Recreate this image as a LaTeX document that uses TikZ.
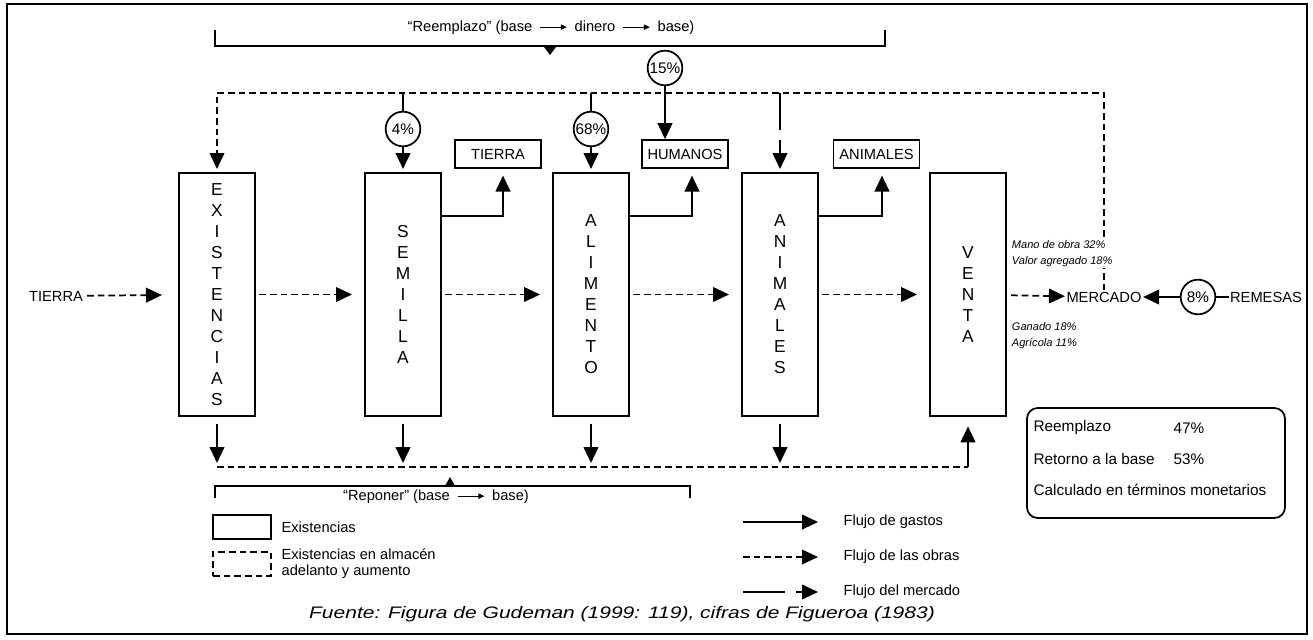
\documentclass[tikz,border=0pt]{standalone}
\usepackage{fontspec}
\setmainfont{Liberation Sans}
\usetikzlibrary{arrows.meta,calc}
\newcommand\txtarrow{\enspace\tikz[baseline=-0.6ex]\draw[line width=0.7pt,-{Triangle[length=4.5pt,width=4pt]}] (0pt,0pt)--(20pt,0pt);\enspace}
\begin{document}
\begin{tikzpicture}[x=0.75pt,y=-0.75pt,
  tri/.style={-{Triangle[length=12pt,width=11pt]}},
  ln/.style={line width=1.5pt},
  dsh/.style={line width=1.3pt, dash pattern=on 5pt off 3pt},
  tallbox/.style={draw, line width=1.5pt, minimum width=57pt, minimum height=182.25pt, inner sep=0pt, align=center, font=\fontsize{13}{15.75}\selectfont},
  smallbox/.style={draw, line width=1.3pt, minimum width=64.5pt, minimum height=21pt, inner sep=0pt, font=\fontsize{11}{12}\selectfont},
  pct/.style={draw, circle, line width=1.3pt, minimum size=26pt, inner sep=0pt, font=\fontsize{11.5}{12}\selectfont},
  lbl/.style={font=\fontsize{11}{12}\selectfont, inner sep=1pt},
  ital/.style={font=\fontsize{8.3}{12}\selectfont\itshape, align=left, inner sep=0.5pt},
]
\useasboundingbox (0,0) rectangle (1313,639);
\draw[line width=1.6pt] (7,4) rectangle (1307,634);

% top bracket
\draw[ln] (215,30) -- (215,46) -- (885,46) -- (885,30);
\fill (544,47) -- (556,47) -- (550,55) -- cycle;
\node[lbl] (reem) at (551,28) {``Reemplazo'' (base\txtarrow dinero\txtarrow base)};

% tall boxes
\node[tallbox] (exi) at (217,294.5) {E\\X\\I\\S\\T\\E\\N\\C\\I\\A\\S};
\node[tallbox] (sem) at (403,294.5) {S\\E\\M\\I\\L\\L\\A};
\node[tallbox] (ali) at (591,294.5) {A\\L\\I\\M\\E\\N\\T\\O};
\node[tallbox] (ani) at (780,294.5) {A\\N\\I\\M\\A\\L\\E\\S};
\node[tallbox] (ven) at (968,294.5) {V\\E\\N\\T\\A};

% row labels
\node[lbl] (tierraL) at (56,296) {TIERRA};
\node[lbl] (merc) at (1104,297) {MERCADO};
\node[pct] (p8) at (1198,297) {8\%};
\node[lbl] (rem) at (1266,297) {REMESAS};

% dashed row arrows
\draw[dsh,tri,shorten <=2pt,shorten >=12pt] (tierraL) -- (exi);
\draw[dsh,tri,shorten <=2.5pt,shorten >=9pt] (exi) -- (sem);
\draw[dsh,tri,shorten <=2.5pt,shorten >=9pt] (sem) -- (ali);
\draw[dsh,tri,shorten <=2.5pt,shorten >=9pt] (ali) -- (ani);
\draw[dsh,tri,shorten <=2.5pt,shorten >=9pt] (ani) -- (ven);
\draw[dsh,tri,shorten <=3pt] (ven) -- (merc);
\draw[ln,tri] (p8) -- (merc);
\draw[ln] (p8) -- (rem);

% feedback dashed loop
\coordinate (tr) at (1104,93);
\coordinate (tl) at (217,93);
\draw[dsh,tri,shorten >=2.25pt] (merc.north -| tr) -- (tr) -- (tl) -- (exi.north);
\node[ital, fill=white, anchor=west] (mano) at (1011,254) {Mano de obra 32\%\\Valor agregado 18\%};
\node[ital, anchor=west] (gan) at (1011,336) {Ganado 18\%\\Agrícola 11\%};

% top arrows
\node[pct] (p4) at (403,129) {4\%};
\draw[ln] (p4.north |- tl) -- (p4.north);
\draw[ln,tri,shorten >=2.25pt] (p4.south) -- (sem.north);
\node[pct] (p68) at (591,129) {68\%};
\draw[ln] (p68.north |- tl) -- (p68.north);
\draw[ln,tri,shorten >=2.25pt] (p68.south) -- (ali.north);
\node[smallbox] (tie) at (498,154) {TIERRA};
\node[smallbox] (hum) at (685,154) {HUMANOS};
\node[smallbox] (anm) at (876.5,154) {ANIMALES};
\node[pct] (p15) at (665,68) {15\%};
\draw[ln,tri] (p15.south) -- (p15.south |- hum.north);
\coordinate (am) at (780,130);
\draw[ln] (ani.north |- tl) -- (am);
\draw[ln,tri,shorten >=2.25pt] ($(ani.north)+(0,-32)$) -- (ani.north);

% side arrows to small boxes
\coordinate (c1) at (503,216);
\coordinate (c2) at (692,216);
\coordinate (c3) at (882,216);
\draw[ln,tri,shorten >=5pt] (sem.east |- c1) -- (c1) -- (c1 |- tie.south);
\draw[ln,tri,shorten >=5pt] (ali.east |- c2) -- (c2) -- (c2 |- hum.south);
\draw[ln,tri,shorten >=5pt] (ani.east |- c3) -- (c3) -- (c3 |- anm.south);

% bottom
\coordinate (bl) at (217,467);
\draw[dsh] (bl) -- (ven.south |- bl);
\draw[ln,tri,shorten <=5pt,shorten >=3pt] (exi.south) -- (exi.south |- bl);
\draw[ln,tri,shorten <=5pt,shorten >=3pt] (sem.south) -- (sem.south |- bl);
\draw[ln,tri,shorten <=5pt,shorten >=3pt] (ali.south) -- (ali.south |- bl);
\draw[ln,tri,shorten <=5pt,shorten >=3pt] (ani.south) -- (ani.south |- bl);
\draw[ln,tri,shorten >=7pt] (ven.south |- bl) -- (ven.south);

% reponer bracket
\draw[ln] (215,498) -- (215,486) -- (690,486) -- (690,498);
\fill (445,486) -- (455,486) -- (450,477) -- cycle;
\node[lbl] (repo) at (436,497) {``Reponer'' (base\txtarrow base)};

% legend
\node[draw, line width=1.3pt, minimum width=43.5pt, minimum height=18pt, inner sep=0pt] (lgbox) at (242,527) {};
\node[lbl, anchor=west] (lgtxt) at (280,527) {Existencias};
\node[draw, dsh, minimum width=43.5pt, minimum height=18pt, inner sep=0pt] (lgdash) at (242,564) {};
\node[lbl, anchor=west, align=left] (lgtxt2) at (280,564) {Existencias en almacén\\adelanto y aumento};

\coordinate (la1) at (743,522); \coordinate (lb1) at (818,522);
\draw[ln,tri] (la1) -- (lb1);
\node[lbl,anchor=west] (lf1) at (842,522) {Flujo de gastos};
\coordinate (la2) at (743,557); \coordinate (lb2) at (818,557);
\draw[dsh,tri] (la2) -- (lb2);
\node[lbl,anchor=west] (lf2) at (842,557) {Flujo de las obras};
\coordinate (la3) at (743,592); \coordinate (lm3) at (785,592); \coordinate (ln3) at (796,592); \coordinate (lb3) at (818,592);
\draw[ln] (la3) -- (lm3);
\draw[ln,tri] (ln3) -- (lb3);
\node[lbl,anchor=west] (lf3) at (842,592) {Flujo del mercado};

% info box
\node[draw, rounded corners=8pt, line width=1.3pt, minimum width=193.5pt, minimum height=82.5pt] (info) at (1156,463) {};
\node[lbl, font=\fontsize{11.5}{12}\selectfont, anchor=west] (i1) at (1032,428) {Reemplazo};
\node[lbl, font=\fontsize{11.5}{12}\selectfont, anchor=west] (i1v) at (1172,428) {47\%};
\node[lbl, font=\fontsize{11.5}{12}\selectfont, anchor=west] (i2) at (1032,459) {Retorno a la base};
\node[lbl, font=\fontsize{11.5}{12}\selectfont, anchor=west] (i2v) at (1172,459) {53\%};
\node[lbl, font=\fontsize{11.5}{12}\selectfont, anchor=west] (i3) at (1032,490) {Calculado en términos monetarios};

% source
\node[lbl, font=\fontsize{12.5}{13}\selectfont\itshape, xscale=1.26] (src) at (622,614) {Fuente: Figura de Gudeman (1999: 119), cifras de Figueroa (1983)};
\end{tikzpicture}
\end{document}
